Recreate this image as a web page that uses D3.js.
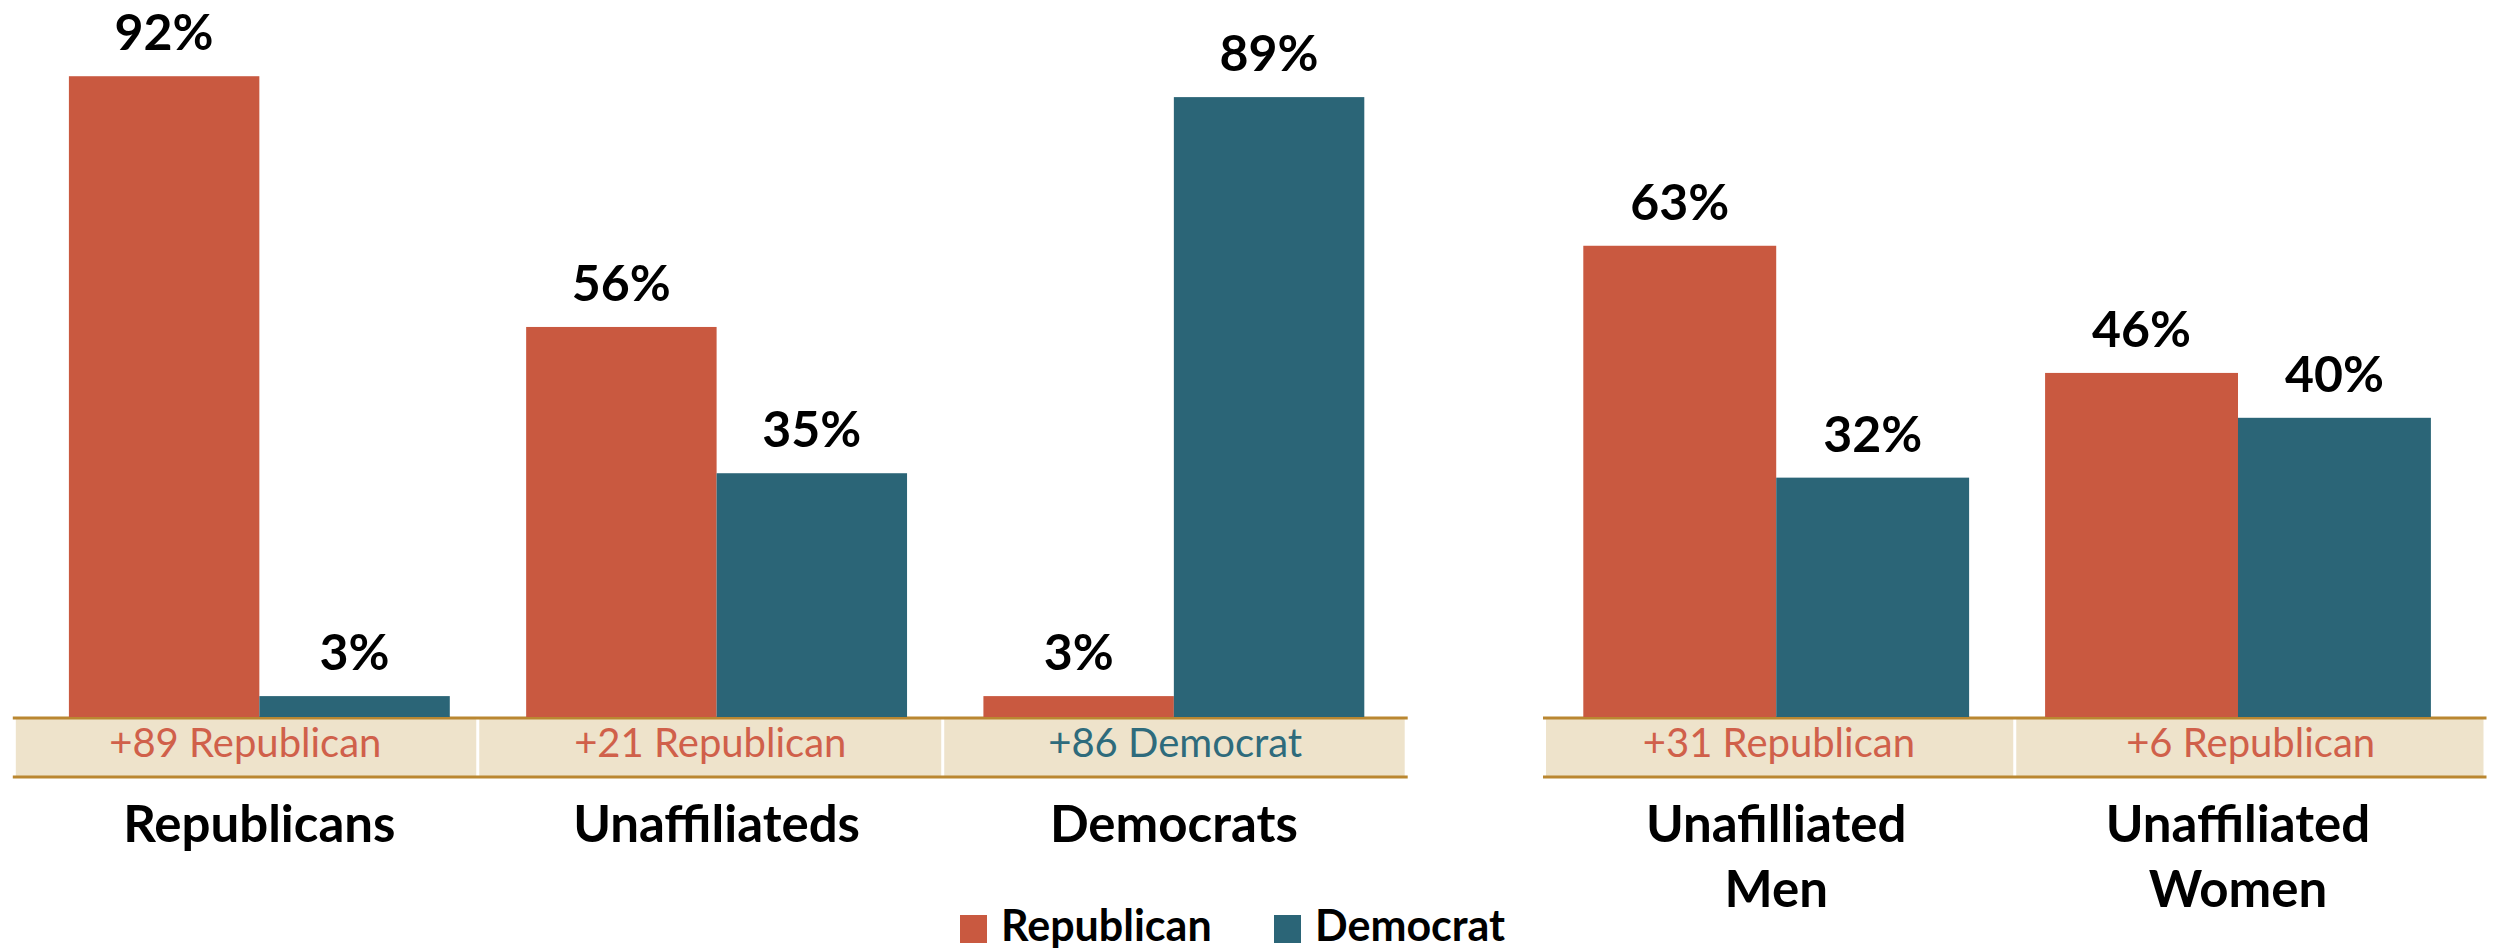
<!DOCTYPE html>
<html>
<head>
<meta charset="utf-8">
<script src="https://cdn.jsdelivr.net/npm/d3@7"></script>
<style>
  html, body { margin: 0; padding: 0; background: #fff; }
  svg { display: block; font-family: Lato, "Open Sans", sans-serif; }
</style>
</head>
<body>
<svg id="chart" width="2497" height="951"></svg>
<script>
// ---- data ----
const series = ["Republican", "Democrat"];
const leftCategories = ["Republicans", "Unaffiliateds", "Democrats"];
const leftRepublican = [92, 56, 3];
const leftDemocrat = [3, 35, 89];
const leftMargins = ["+89 Republican", "+21 Republican", "+86 Democrat"];
const leftMarginParty = ["Republican", "Republican", "Democrat"];

const rightCategories = ["Unafilliated\nMen", "Unaffiliated\nWomen"];
const rightRepublican = [63, 46];
const rightDemocrat = [32, 40];
const rightMargins = ["+31 Republican", "+6 Republican"];
const rightMarginParty = ["Republican", "Republican"];

// ---- styles ----
const barColor = { Republican: "#C95940", Democrat: "#2B6577" };
const textColor = { Republican: "#D0604A", Democrat: "#2E6B7C" };
const beige = "#EEE3CB";
const gold = "#BA8731";

const svg = d3.select("#chart");
const baseY = 717;

function panel(cfg) {
  const g = svg.append("g");
  const x0 = d3.scaleBand().domain(cfg.categories).range(cfg.barRange)
    .paddingInner(cfg.paddingInner).paddingOuter(0);
  const x1 = d3.scaleBand().domain(series).range([0, x0.bandwidth()]).padding(0);
  const y = d3.scaleLinear().domain([0, 100]).range([baseY, cfg.yTop]);
  const cell = d3.scaleBand().domain(cfg.categories).range(cfg.cellRange).padding(0);

  const rows = cfg.categories.map((c, i) => ({
    cat: c,
    vals: [
      { s: "Republican", v: cfg.rep[i] },
      { s: "Democrat", v: cfg.dem[i] }
    ],
    margin: cfg.margins[i],
    party: cfg.marginParty[i]
  }));

  // margin band
  const tbl = g.append("g");
  tbl.append("rect")
    .attr("x", cfg.cellRange[0] + 3).attr("y", baseY + 1)
    .attr("width", cfg.cellRange[1] - cfg.cellRange[0] - 6)
    .attr("height", 59).attr("fill", beige);
  tbl.selectAll("line.sep").data(cfg.categories.slice(1)).join("line")
    .attr("x1", d => cell(d)).attr("x2", d => cell(d))
    .attr("y1", baseY + 1).attr("y2", baseY + 60)
    .attr("stroke", "#fff").attr("stroke-width", 3);
  [baseY + 1, baseY + 60].forEach(yy => {
    tbl.append("line")
      .attr("x1", cfg.cellRange[0]).attr("x2", cfg.cellRange[1])
      .attr("y1", yy).attr("y2", yy)
      .attr("stroke", gold).attr("stroke-width", 3);
  });
  tbl.selectAll("text.margin").data(rows).join("text")
    .attr("class", "margin")
    .attr("x", d => cell(d.cat) + cell.bandwidth() / 2)
    .attr("y", baseY + 40)
    .attr("text-anchor", "middle")
    .attr("font-size", 40)
    .attr("fill", d => textColor[d.party])
    .text(d => d.margin);

  // bars
  const grp = g.selectAll("g.grp").data(rows).join("g")
    .attr("transform", d => `translate(${x0(d.cat)},0)`);
  grp.selectAll("rect").data(d => d.vals).join("rect")
    .attr("x", d => x1(d.s))
    .attr("y", d => y(d.v))
    .attr("width", x1.bandwidth())
    .attr("height", d => baseY - y(d.v))
    .attr("fill", d => barColor[d.s]);
  grp.selectAll("text.val").data(d => d.vals).join("text")
    .attr("class", "val")
    .attr("x", d => x1(d.s) + x1.bandwidth() / 2)
    .attr("y", d => y(d.v) - 26)
    .attr("text-anchor", "middle")
    .attr("font-size", 50)
    .attr("font-weight", 700)
    .attr("fill", "#000")
    .text(d => d.v + "%");

  // category labels
  const cl = g.selectAll("text.cat").data(rows).join("text")
    .attr("class", "cat")
    .attr("text-anchor", "middle")
    .attr("font-size", 51)
    .attr("font-weight", 700)
    .attr("fill", "#000");
  cl.selectAll("tspan").data(d => d.cat.split("\n").map(t => ({ t, x: x0(d.cat) + x0.bandwidth() / 2 })))
    .join("tspan")
    .attr("x", d => d.x)
    .attr("y", (d, i) => 842 + i * 65)
    .text(d => d.t);
}

panel({
  categories: leftCategories, rep: leftRepublican, dem: leftDemocrat,
  margins: leftMargins, marginParty: leftMarginParty,
  barRange: [68.9, 1364.3], paddingInner: 0.167, yTop: 20.5,
  cellRange: [12.8, 1407.7]
});
panel({
  categories: rightCategories, rep: rightRepublican, dem: rightDemocrat,
  margins: rightMargins, marginParty: rightMarginParty,
  barRange: [1583.3, 2430.9], paddingInner: 0.1645, yTop: -31,
  cellRange: [1543, 2486.5]
});

// legend
const legendX = d3.scaleOrdinal().domain(series).range([960, 1274]);
const lg = svg.append("g").selectAll("g").data(series).join("g")
  .attr("transform", d => `translate(${legendX(d)},915)`);
lg.append("rect").attr("width", 27).attr("height", 28).attr("fill", d => barColor[d]);
lg.append("text").attr("x", 41).attr("y", 26)
  .attr("font-size", 43).attr("font-weight", 700).attr("fill", "#000")
  .text(d => d);
</script>
</body>
</html>
